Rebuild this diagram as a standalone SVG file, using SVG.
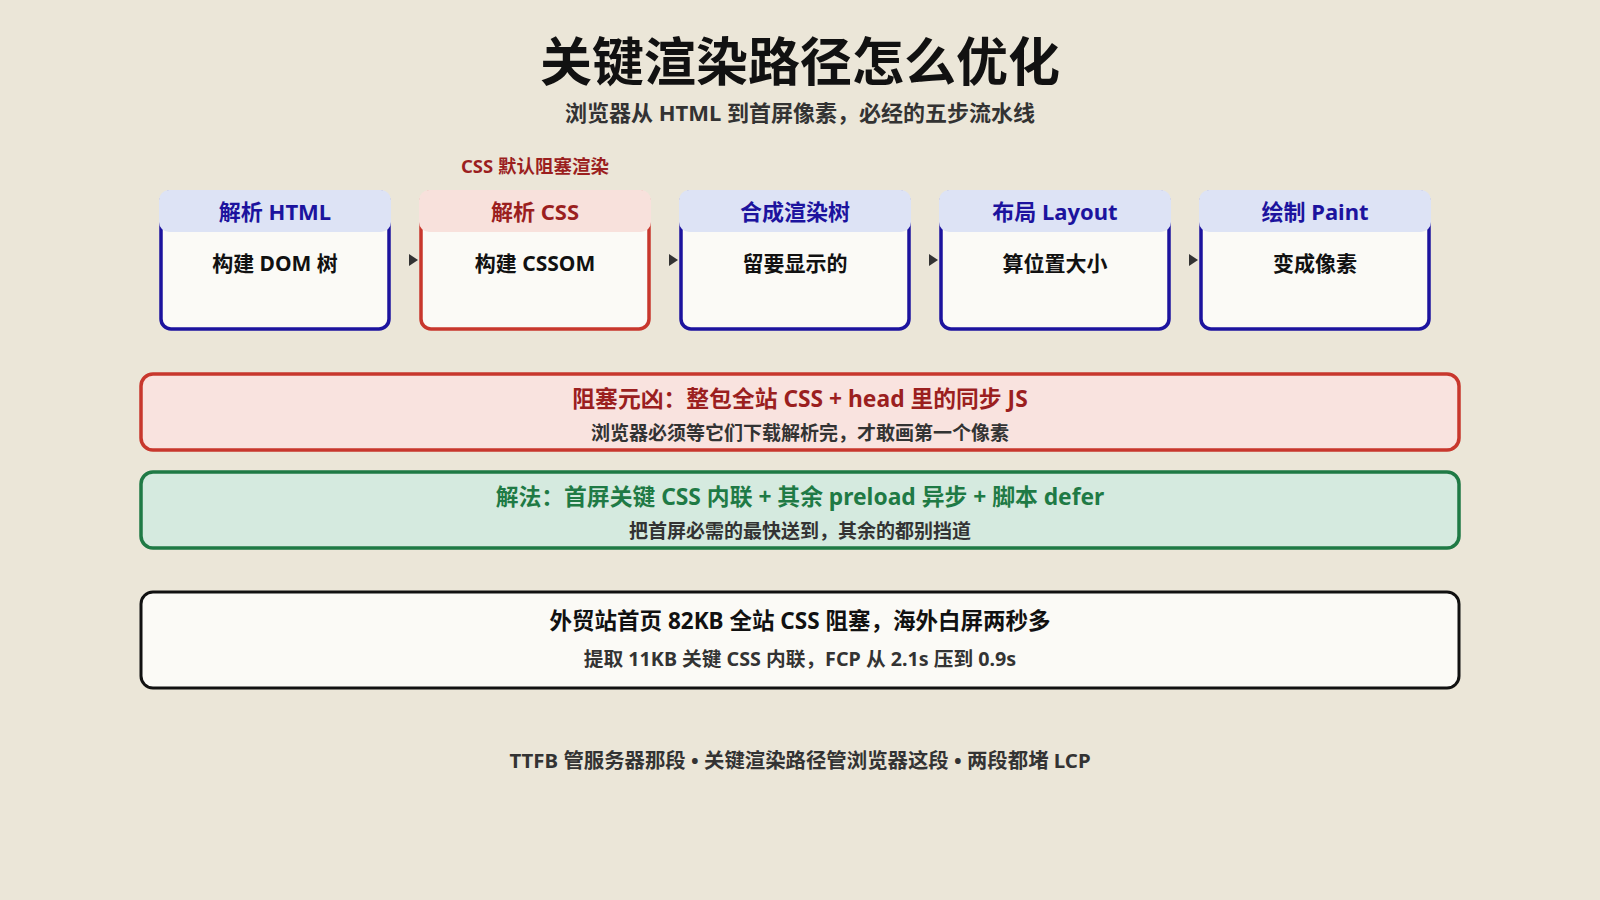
<svg xmlns="http://www.w3.org/2000/svg" width="1600" height="900" viewBox="0 0 1600 900">
<defs>
<style>
text{font-family:"Noto Sans","Noto Sans CJK SC",sans-serif;font-weight:700;text-anchor:middle}
.body{fill:#fbfaf6;stroke-width:3.5}
.blue .body{stroke:#1c139e}
.blue .hd{fill:#dde3f5}
.blue .ht{fill:#1c139e}
.red .body{stroke:#c8372d}
.red .hd{fill:#f8e1dc}
.red .ht{fill:#9b1f1f}
.ht{font-size:22px}
.bt{font-size:21px;fill:#111}
.arr{fill:#333}
</style>
</defs>
<rect width="1600" height="900" fill="#ebe6d8"/>
<text x="800" y="81" font-size="52" fill="#111">关键渲染路径怎么优化</text>
<text x="800" y="121" font-size="22" fill="#333">浏览器从 HTML 到首屏像素，必经的五步流水线</text>
<text x="535" y="173" font-size="18.5" fill="#9b1f1f">CSS 默认阻塞渲染</text>

<g id="node1" class="blue">
<rect class="body" x="161" y="192" width="228" height="137" rx="10"/>
<rect class="hd" x="159" y="190" width="232" height="42" rx="10"/>
<text class="ht" x="275" y="220">解析 HTML</text>
<text class="bt" x="275" y="271">构建 DOM 树</text>
</g>
<g id="node2" class="red">
<rect class="body" x="421" y="192" width="228" height="137" rx="10"/>
<rect class="hd" x="419" y="190" width="232" height="42" rx="10"/>
<text class="ht" x="535" y="220">解析 CSS</text>
<text class="bt" x="535" y="271">构建 CSSOM</text>
</g>
<g id="node3" class="blue">
<rect class="body" x="681" y="192" width="228" height="137" rx="10"/>
<rect class="hd" x="679" y="190" width="232" height="42" rx="10"/>
<text class="ht" x="795" y="220">合成渲染树</text>
<text class="bt" x="795" y="271">留要显示的</text>
</g>
<g id="node4" class="blue">
<rect class="body" x="941" y="192" width="228" height="137" rx="10"/>
<rect class="hd" x="939" y="190" width="232" height="42" rx="10"/>
<text class="ht" x="1055" y="220">布局 Layout</text>
<text class="bt" x="1055" y="271">算位置大小</text>
</g>
<g id="node5" class="blue">
<rect class="body" x="1201" y="192" width="228" height="137" rx="10"/>
<rect class="hd" x="1199" y="190" width="232" height="42" rx="10"/>
<text class="ht" x="1315" y="220">绘制 Paint</text>
<text class="bt" x="1315" y="271">变成像素</text>
</g>

<g id="connectors">
<polygon class="arr" points="409,254 418,260 409,266"/>
<polygon class="arr" points="669,254 678,260 669,266"/>
<polygon class="arr" points="929,254 938,260 929,266"/>
<polygon class="arr" points="1189,254 1198,260 1189,266"/>
</g>

<g id="block">
<rect x="141" y="374" width="1318" height="76" rx="12" fill="#f9e3df" stroke="#c8372d" stroke-width="3.5"/>
<text x="800" y="407" font-size="22.8" fill="#9b1f1f">阻塞元凶：整包全站 CSS + head 里的同步 JS</text>
<text x="800" y="440" font-size="19" fill="#333">浏览器必须等它们下载解析完，才敢画第一个像素</text>
</g>
<g id="fix">
<rect x="141" y="472" width="1318" height="76" rx="12" fill="#d5eadf" stroke="#1f7a45" stroke-width="3.5"/>
<text x="800" y="505" font-size="22.8" fill="#1f7a45">解法：首屏关键 CSS 内联 + 其余 preload 异步 + 脚本 defer</text>
<text x="800" y="538" font-size="19" fill="#333">把首屏必需的最快送到，其余的都别挡道</text>
</g>
<g id="case">
<rect x="141" y="592" width="1318" height="96" rx="12" fill="#fbfaf6" stroke="#111" stroke-width="3"/>
<text x="800" y="629" font-size="22.5" fill="#111">外贸站首页 82KB 全站 CSS 阻塞，海外白屏两秒多</text>
<text x="800" y="666" font-size="19.7" fill="#333">提取 11KB 关键 CSS 内联，FCP 从 2.1s 压到 0.9s</text>
</g>
<text x="800" y="768" font-size="20.4" fill="#333">TTFB 管服务器那段 • 关键渲染路径管浏览器这段 • 两段都堵 LCP</text>
</svg>
